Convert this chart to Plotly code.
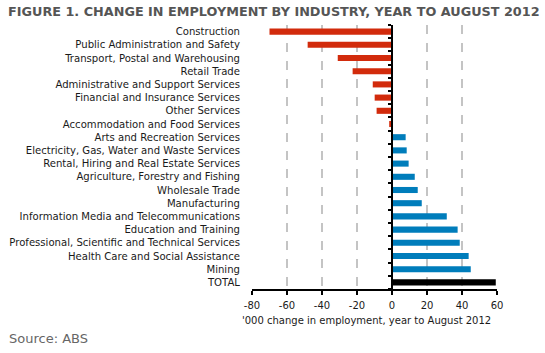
import plotly.graph_objects as go

categories = [
    "Construction",
    "Public Administration and Safety",
    "Transport, Postal and Warehousing",
    "Retail Trade",
    "Administrative and Support Services",
    "Financial and Insurance Services",
    "Other Services",
    "Accommodation and Food Services",
    "Arts and Recreation Services",
    "Electricity, Gas, Water and Waste Services",
    "Rental, Hiring and Real Estate Services",
    "Agriculture, Forestry and Fishing",
    "Wholesale Trade",
    "Manufacturing",
    "Information Media and Telecommunications",
    "Education and Training",
    "Professional, Scientific and Technical Services",
    "Health Care and Social Assistance",
    "Mining",
    "TOTAL",
]
values = [-70.0, -48.2, -31.0, -22.5, -11.0, -9.9, -8.8, -1.6, 7.8, 8.4,
          9.5, 13.0, 14.7, 17.0, 31.3, 37.5, 38.7, 43.8, 45.0, 59.3]
x_ticks = [-80, -60, -40, -20, 0, 20, 40, 60]
x_tick_text = [str(v) for v in x_ticks]

RED = "#D22B0C"
BLUE = "#007DBB"
colors = ["#000000" if c == "TOTAL" else (RED if v < 0 else BLUE)
          for c, v in zip(categories, values)]

FONT = "DejaVu Sans"
W, H = 545, 353
L, R, T, B = 252, 48, 25, 64
pw = W - L - R
ph = H - T - B

n = len(categories)
idx = list(range(n))
boundaries = [i - 0.5 for i in range(n + 1)]

fig = go.Figure()
fig.add_trace(go.Bar(x=values, y=categories, orientation="h",
                     marker=dict(color=colors, line=dict(width=0)),
                     width=0.46, showlegend=False, hoverinfo="x+y"))
# invisible trace to carry the zero-line axis (category index positions)
fig.add_trace(go.Scatter(x=[0] * n, y=idx, yaxis="y2",
                         mode="markers", marker=dict(opacity=0),
                         showlegend=False, hoverinfo="skip"))

zero_pos = (0 - x_ticks[0]) / (x_ticks[-1] - x_ticks[0])
yrange = [n - 0.5, -0.5]

fig.update_layout(
    width=W, height=H,
    margin=dict(l=L, r=R, t=T, b=B, pad=0, autoexpand=False),
    paper_bgcolor="white", plot_bgcolor="white",
    font=dict(family=FONT, size=10, color="#1a1a1a"),
    bargap=0.54,
    xaxis=dict(range=[x_ticks[0], x_ticks[-1]], tickvals=x_ticks, ticktext=x_tick_text,
               showgrid=True, gridcolor="#c4c4c4", griddash="dash", gridwidth=1.5,
               zeroline=False, showline=True, linecolor="black", linewidth=2,
               ticks="outside", ticklen=4, tickcolor="black", tickwidth=1.5,
               ticklabelstandoff=2, automargin=False,
               tickfont=dict(size=10, color="#1a1a1a"), fixedrange=True),
    yaxis=dict(range=yrange, type="category", showgrid=False, automargin=False,
               zeroline=False, showline=False, ticks="outside", ticklen=9,
               tickcolor="rgba(0,0,0,0)", tickfont=dict(size=10.1, color="#1a1a1a")),
    yaxis2=dict(overlaying="y", anchor="free", position=zero_pos, type="linear",
                range=yrange, tickvals=boundaries, ticks="outside", automargin=False,
                ticklen=3, tickwidth=1.5, tickcolor="black",
                showticklabels=False, showline=True, linecolor="black",
                linewidth=2, showgrid=False, zeroline=False),
    title=dict(text="<b>FIGURE 1. CHANGE IN EMPLOYMENT BY INDUSTRY, YEAR TO AUGUST 2012</b>",
               xref="container", yref="container", x=8 / W, y=1 - 12 / H,
               xanchor="left", yanchor="middle",
               font=dict(family=FONT, size=12.8, color="#555555")),
)

fig.add_annotation(text="'000 change in employment, year to August 2012",
                   xref="paper", yref="paper",
                   x=(366.6 - L) / pw, y=(H - B - 320) / ph,
                   xanchor="center", yanchor="middle", showarrow=False,
                   font=dict(family=FONT, size=10, color="#1a1a1a"))
fig.add_annotation(text="Source: ABS",
                   xref="paper", yref="paper",
                   x=(7 - L) / pw, y=(H - B - 338) / ph,
                   xanchor="left", yanchor="middle", showarrow=False,
                   font=dict(family=FONT, size=13, color="#666666"))

fig.write_html("out.html")
